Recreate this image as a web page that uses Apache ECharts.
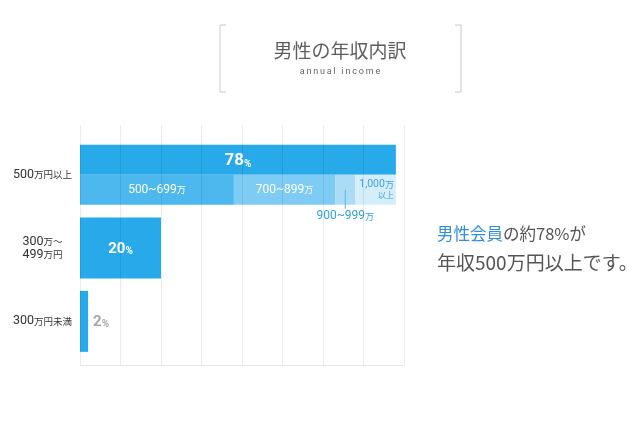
<!DOCTYPE html>
<html><head><meta charset="utf-8">
<script src="https://cdn.jsdelivr.net/npm/echarts@6/dist/echarts.min.js"></script>
<style>html,body{margin:0;padding:0;background:#fff}#c{width:640px;height:427px}</style>
</head><body><div id="c"></div>
<script>
// ---- data ----
const categories = ['500万円以上', '300万～\n499万円', '300万円未満'];
const totalShares = [78, 20, 2];
const bandLabels = ['500~699', '700~899', '900~999', '1,000'];
const bandShares = [38, 25, 5, 10];
const axisMin = 0, axisMax = 80, axisInterval = 10;
const titleText = '男性の年収内訳';
const subtitleText = 'annual income';
const noteHighlight = '男性会員';
const noteLine2 = '年収500万円以上です。';

// ---- styles ----
const JP = '"Noto Sans CJK JP", "Noto Sans", sans-serif';
const NUM = 'Roboto, "Noto Sans CJK JP", sans-serif';
const mainBlue = '#27a9ea';
const bandColors = ['#4db8ee', '#7ecbf3', '#aadcf6', '#d5eefb'];
const labelBlue = '#2ea3dc';

function catFormatter(v) {
  return v.split('\n').map(line =>
    line.replace(/(\d+)|([^\d]+)/g, (m, d, o) => d ? '{n|' + d + '}' : '{k|' + o + '}')
  ).join('\n');
}

// letter-spaced subtitle (each character kept as real text)
const spacedSubtitle = subtitleText.split('').map(ch => '{c|' + ch + '}').join('');

const bandSeries = bandShares.map((v, i) => {
  let label;
  if (i < 2) {
    label = { show: true, position: 'inside',
      formatter: '{n|' + bandLabels[i] + '}{u|万}',
      rich: { n: { fontFamily: NUM, fontSize: 12, color: '#fff' },
              u: { fontFamily: JP, fontSize: 9, color: '#fff' } } };
  } else if (i === 2) {
    label = { show: true, position: 'inside', verticalAlign: 'top', align: 'center',
      formatter: '{l|}\n{n|' + bandLabels[i] + '}{u|万}',
      rich: { l: { width: 1, height: 19, backgroundColor: '#5ab5e3', align: 'center' },
              n: { fontFamily: NUM, fontSize: 12, color: labelBlue, lineHeight: 15 },
              u: { fontFamily: JP, fontSize: 9, color: labelBlue, lineHeight: 15 } } };
  } else {
    label = { show: true, position: 'insideRight', distance: 2, align: 'right',
      formatter: '{n|' + bandLabels[i] + '}{u|万}\n{s|以上}',
      rich: { n: { fontFamily: NUM, fontSize: 10.5, color: '#3ea3da', lineHeight: 11 },
              u: { fontFamily: JP, fontSize: 9, color: '#3ea3da', lineHeight: 11 },
              s: { fontFamily: JP, fontSize: 8, color: '#3ea3da', lineHeight: 10, align: 'right' } } };
  }
  return {
    type: 'bar', xAxisIndex: 1, yAxisIndex: 1, stack: 'band', barWidth: 30, barGap: '0%',
    data: categories.map((c, j) => j === 0 ? v : '-'),
    itemStyle: { color: bandColors[i] }, label
  };
});

const pctRich = (color, big, small) => ({
  v: { fontFamily: NUM, fontSize: big, fontWeight: 'bold', color, lineHeight: big + 2, verticalAlign: 'bottom' },
  p: { fontFamily: NUM, fontSize: small, fontWeight: 'bold', color, lineHeight: big, verticalAlign: 'bottom' }
});

const option = {
  animation: false,
  backgroundColor: '#fff',
  grid: [
    { left: 80, right: 236, top: 125, bottom: 62, outerBoundsMode: 'none' },
    { left: 80, right: 236, top: 138, bottom: 69, outerBoundsMode: 'none' }
  ],
  xAxis: [
    { gridIndex: 0, type: 'value', min: axisMin, max: axisMax, interval: axisInterval, z: 10,
      axisLabel: { show: false }, axisTick: { show: false },
      axisLine: { show: true, onZero: false, lineStyle: { color: '#e6e6e6' } },
      splitLine: { show: true, lineStyle: { color: 'rgba(0,0,0,0.08)' } } },
    { gridIndex: 1, type: 'value', min: axisMin, max: axisMax, show: false }
  ],
  yAxis: [
    { gridIndex: 0, type: 'value', show: false },
    { gridIndex: 1, type: 'category', inverse: true, data: categories,
      axisLine: { show: false }, axisTick: { show: false }, splitLine: { show: false },
      axisLabel: { margin: 37.5, formatter: catFormatter, align: 'center',
        rich: { n: { fontFamily: NUM, fontSize: 12.5, color: '#333', lineHeight: 13 },
                k: { fontFamily: JP, fontSize: 9.5, color: '#333', lineHeight: 13 } } } },
    { gridIndex: 1, type: 'category', inverse: true, data: categories, show: false }
  ],
  series: [
    { type: 'bar', xAxisIndex: 1, yAxisIndex: 1, barWidth: 30, barGap: '0%',
      data: categories.map((c, j) => j === 0 ? totalShares[j] : '-'),
      itemStyle: { color: mainBlue },
      label: { show: true, position: 'inside', formatter: p => '{v|' + p.value + '}{p|%}', rich: pctRich('#fff', 17, 10) } },
    ...bandSeries,
    { type: 'bar', xAxisIndex: 1, yAxisIndex: 2, barWidth: 61,
      data: categories.map((c, j) => j === 0 ? '-' : (j === 1
        ? { value: totalShares[j], label: { show: true, position: 'inside', formatter: p => '{v|' + p.value + '}{p|%}', rich: pctRich('#fff', 15, 10) } }
        : { value: totalShares[j], label: { show: true, position: 'right', distance: 5, formatter: p => '{v|' + p.value + '}{p|%}', rich: pctRich('#a6a6a6', 15, 10) } })),
      itemStyle: { color: mainBlue } }
  ],
  graphic: [
    { type: 'polyline', shape: { points: [[226, 25], [220, 25], [220, 92], [226, 92]] }, style: { stroke: '#c8c8c8', lineWidth: 1, fill: null } },
    { type: 'polyline', shape: { points: [[455, 25], [461, 25], [461, 92], [455, 92]] }, style: { stroke: '#c8c8c8', lineWidth: 1, fill: null } },
    { type: 'text', x: 340, y: 51, style: { text: titleText, fontFamily: JP, fontSize: 19, fill: '#5e5e5e', align: 'center', verticalAlign: 'middle' } },
    { type: 'text', x: 340, y: 72, style: { text: spacedSubtitle, align: 'center', verticalAlign: 'middle',
        rich: { c: { fontFamily: 'Roboto, sans-serif', fontSize: 9, color: '#666', fill: '#666', padding: [0, 0.9, 0, 0.9] } } } },
    { type: 'text', x: 437, y: 234, style: { text: '{b|' + noteHighlight + '}{g|の約' + totalShares[0] + '%が}',
        verticalAlign: 'middle',
        rich: { b: { fontFamily: JP, fontSize: 16.5, fill: '#2f8fdc', color: '#2f8fdc' },
                g: { fontFamily: JP, fontSize: 16.5, fill: '#555', color: '#555' } } } },
    { type: 'text', x: 437, y: 263, style: { text: noteLine2, fontFamily: JP, fontSize: 19, fill: '#555', verticalAlign: 'middle' } }
  ]
};
const chart = echarts.init(document.getElementById('c'));
chart.setOption(option);
</script></body></html>
